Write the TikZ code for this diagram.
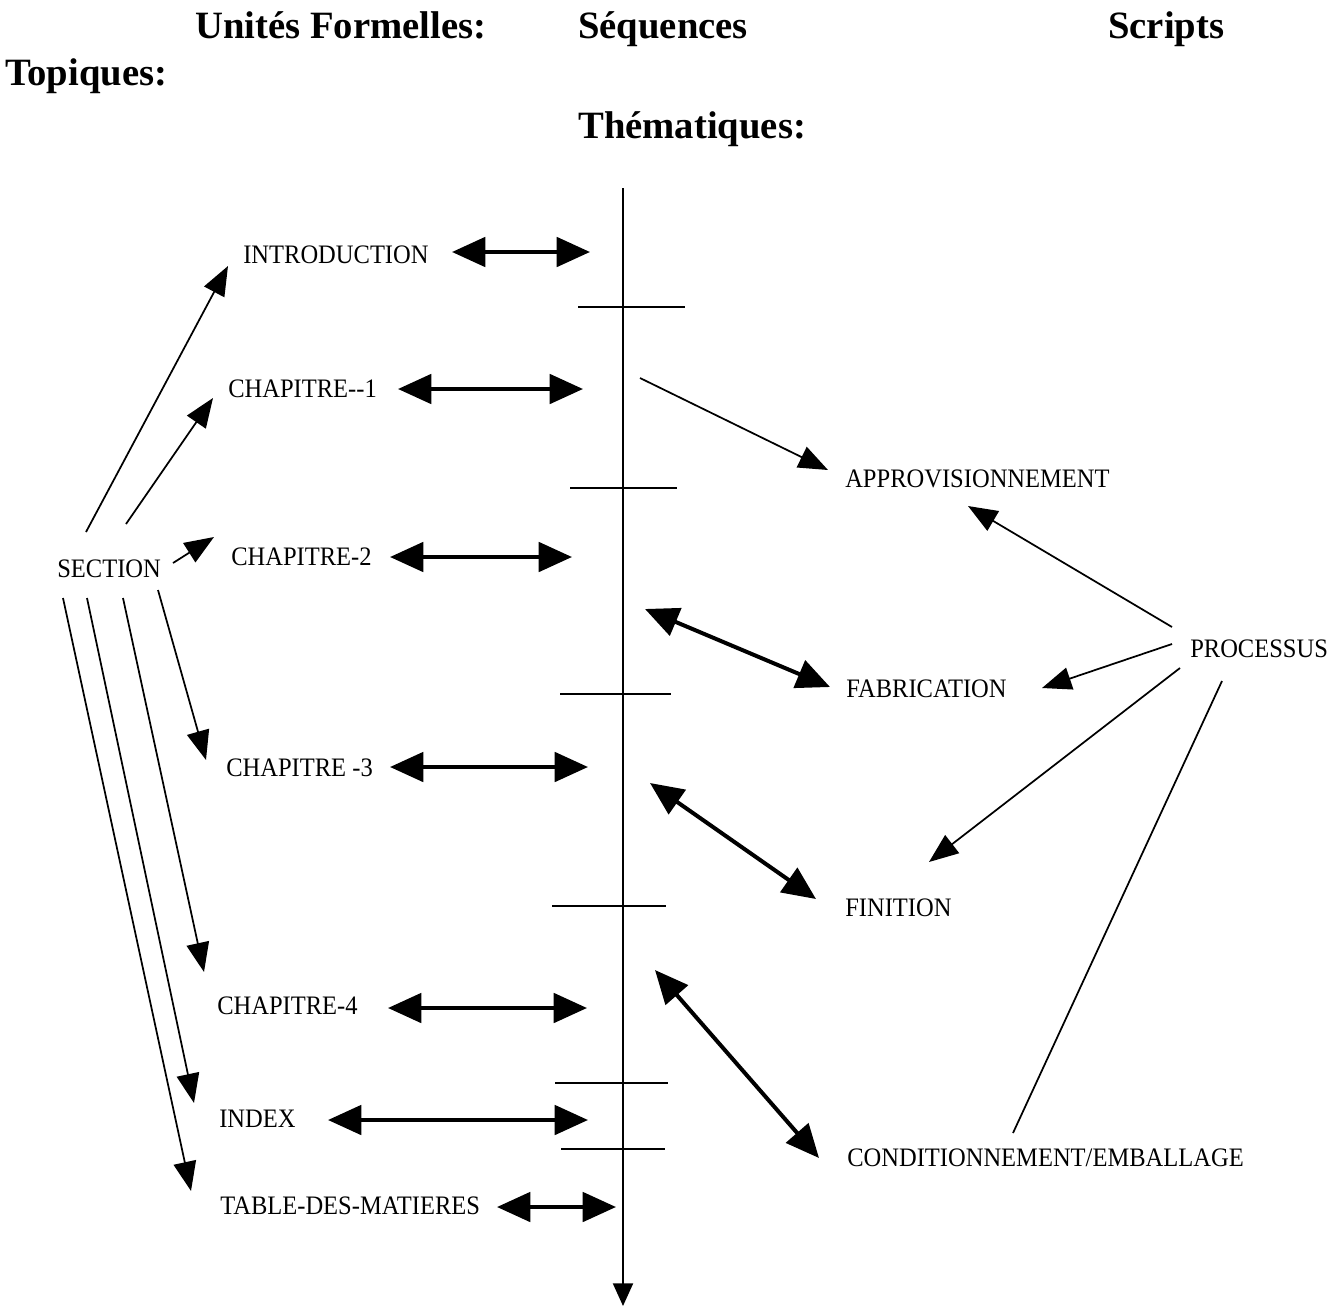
\documentclass[tikz,border=0pt]{standalone}
\usepackage{fontspec}
\setmainfont{Liberation Serif}[FakeStretch=0.92]
\newfontfamily\ttlfont{Liberation Serif}
\usetikzlibrary{arrows.meta}
\begin{document}
\begin{tikzpicture}[x=0.75pt,y=-0.75pt,
  title/.style={font=\ttlfont\fontsize{29}{34}\selectfont\bfseries, anchor=base west, inner sep=0pt},
  lbl/.style={font=\fontsize{20}{24}\selectfont, anchor=base west, inner sep=0pt},
  dbl/.style={line width=3pt, {Triangle[length=25pt,width=22pt]}-{Triangle[length=25pt,width=22pt]}},
  sgl/.style={line width=1.3pt, -{Triangle[length=22pt,width=17pt]}},
  plain/.style={line width=1.3pt},
  tick/.style={line width=1.5pt},
  axis/.style={line width=1.5pt, -{Triangle[length=17pt,width=15pt]}}]
\useasboundingbox[fill=white] (0,0) rectangle (1343,1311);

% titles
\node[title] (tUF) at (195,38) {Unités Formelles:};
\node[title] (tSeq) at (578,38) {Séquences};
\node[title] (tScr) at (1108,38) {Scripts};
\node[title] (tTop) at (5,85) {Topiques:};
\node[title] (tThe) at (578,138) {Thématiques:};

% labels
\node[lbl] (intro) at (243,263) {INTRODUCTION};
\node[lbl] (ch1) at (228,397) {CHAPITRE-{}-1};
\node[lbl] (ch2) at (231,565) {CHAPITRE-2};
\node[lbl] (ch3) at (226,776) {CHAPITRE -3};
\node[lbl] (ch4) at (217,1014) {CHAPITRE-4};
\node[lbl] (index) at (219,1127) {INDEX};
\node[lbl] (tdm) at (220,1214) {TABLE-DES-MATIERES};
\node[lbl] (section) at (57,577) {SECTION};
\node[lbl] (appro) at (845,487) {APPROVISIONNEMENT};
\node[lbl] (fab) at (846,697) {FABRICATION};
\node[lbl] (fin) at (845,916) {FINITION};
\node[lbl] (cond) at (847,1166) {CONDITIONNEMENT/EMBALLAGE};
\node[lbl] (proc) at (1190,657) {PROCESSUS};

% axis
\coordinate (axtop) at (623,188);
\coordinate (axbot) at (623,1306);
\draw[axis] (axtop) -- (axbot);

% ticks
\foreach \n/\y/\a/\b in {1/307/578/685, 2/488/570/677, 3/694/560/671, 4/906/552/666, 5/1083/555/668, 6/1149/561/665}{
  \coordinate (tk\n a) at (\a,\y);
  \coordinate (tk\n b) at (\b,\y);
  \draw[tick] (tk\n a) -- (tk\n b);
}

% horizontal double arrows
\coordinate (dIa) at (452,252); \coordinate (dIb) at (590,252);
\coordinate (d1a) at (398,389); \coordinate (d1b) at (583,389);
\coordinate (d2a) at (390,557); \coordinate (d2b) at (572,557);
\coordinate (d3a) at (390,767); \coordinate (d3b) at (588,767);
\coordinate (d4a) at (388,1008); \coordinate (d4b) at (587,1008);
\coordinate (dXa) at (328,1120); \coordinate (dXb) at (588,1120);
\coordinate (dTa) at (497,1207); \coordinate (dTb) at (616,1207);
\foreach \p in {I,1,2,3,4,X,T}{\draw[dbl] (d\p a) -- (d\p b);}

% section arrows
\coordinate (sI) at (86,532);  \coordinate (eI) at (228,266);
\coordinate (s1) at (126,524); \coordinate (e1) at (213,398);
\coordinate (s2) at (173,563); \coordinate (e2) at (214,537);
\coordinate (s3) at (158,590); \coordinate (e3) at (206,760);
\coordinate (s4) at (123,598); \coordinate (e4) at (204,972);
\coordinate (sX) at (87,598);  \coordinate (eX) at (194,1103);
\coordinate (sT) at (63,598);  \coordinate (eT) at (191,1191);
\foreach \p in {I,1,2,3,4,X,T}{\draw[sgl] (s\p) -- (e\p);}

% right side
\coordinate (axA) at (640,378); \coordinate (appA) at (828,470);
\draw[sgl] (axA) -- (appA);
\coordinate (prA) at (1172,627); \coordinate (appB) at (968,506);
\draw[sgl] (prA) -- (appB);
\coordinate (prF) at (1172,644); \coordinate (fabB) at (1042,688);
\draw[sgl] (prF) -- (fabB);
\coordinate (prN) at (1180,668); \coordinate (finB) at (929,862);
\draw[sgl] (prN) -- (finB);
\coordinate (prC) at (1222,681); \coordinate (condB) at (1013,1133);
\draw[plain] (prC) -- (condB);

\coordinate (axF) at (645,609); \coordinate (fabA) at (830,687);
\draw[dbl] (axF) -- (fabA);
\coordinate (axN) at (650,783); \coordinate (finA) at (816,899);
\draw[dbl] (axN) -- (finA);
\coordinate (axC) at (655,970); \coordinate (condA) at (819,1158);
\draw[dbl] (axC) -- (condA);
\end{tikzpicture}
\end{document}
